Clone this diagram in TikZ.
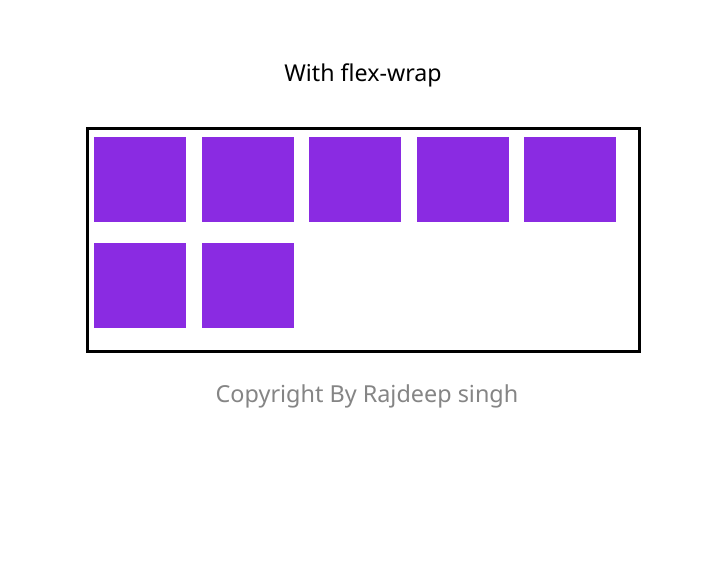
\documentclass[tikz,border=0pt]{standalone}
\usepackage{fontspec}
\setmainfont{Noto Sans}
\definecolor{boxpurple}{HTML}{8A2BE2}
\definecolor{copygray}{HTML}{858585}
\tikzset{
  item/.style={fill=boxpurple, draw=none, inner sep=0pt, minimum width=92pt, minimum height=85pt, anchor=north west},
  frame/.style={draw=black, line width=3pt},
}
\begin{document}
\begin{tikzpicture}[x=1pt,y=-1pt]
\useasboundingbox[fill=white] (0,0) rectangle (727,572);
\draw[frame] (87.5,128.5) rectangle (639.5,351.5);
\node[item] (s1) at (94,137) {};
\node[item] (s2) at (201.5,137) {};
\node[item] (s3) at (309,137) {};
\node[item] (s4) at (416.5,137) {};
\node[item] (s5) at (524,137) {};
\node[item] (s6) at (94,243) {};
\node[item] (s7) at (201.5,243) {};
\node[anchor=base, inner sep=0pt, font=\fontsize{23.2}{28}\selectfont] (title) at (363,82) {With flex-wrap};
\node[anchor=base, inner sep=0pt, text=copygray, font=\fontsize{23.4}{29}\selectfont] (copy) at (367,402) {Copyright By Rajdeep singh};
\end{tikzpicture}
\end{document}
